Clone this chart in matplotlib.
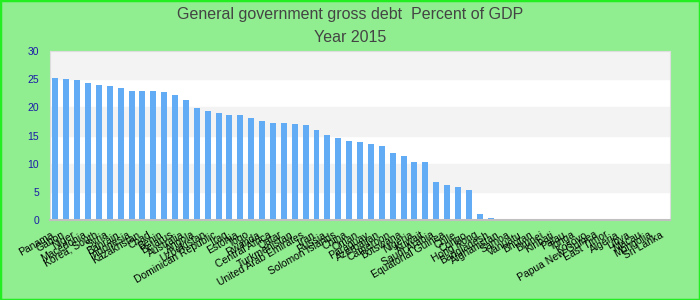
import matplotlib.pyplot as plt
from matplotlib.patches import Rectangle

# countries, sorted by debt (percent of GDP), year 2015
countries = ["Panama", "Gabon", "Niger", "Macedonia", "Korea, South", "Syria",
             "Bahrain", "Indonesia", "Kazakhstan", "Chad", "Benin", "Belarus",
             "Australia", "Angola", "Uzbekistan", "Dominican Republic", "Iraq",
             "Estonia", "Togo", "Rwanda", "Central Africa", "Qatar",
             "Turkmenistan", "United Arab Emirates", "Iran", "Russia",
             "Solomon Islands", "China", "Oman", "Paraguay", "Azerbaijan",
             "Cameroon", "Botswana", "Nigeria", "Kuwait", "Saudi Arabia",
             "Equatorial Guinea", "Chile", "Congo", "Hong Kong", "Bangladesh",
             "Afghanistan", "Samoa", "Vanuatu", "Bhutan", "Brunei", "Kiribati",
             "Palau", "Tonga", "Kosovo", "Papua New Guinea", "East Timor",
             "Algeria", "Libya", "Macau", "Mongolia", "Sri Lanka"]
debt = [25.2, 25.0, 24.8, 24.3, 23.9, 23.8, 23.4, 22.9, 22.9, 22.9, 22.7,
        22.2, 21.3, 19.9, 19.3, 19.0, 18.6, 18.6, 18.1, 17.6, 17.2, 17.2,
        17.0, 16.9, 16.0, 15.1, 14.6, 14.0, 13.8, 13.5, 13.1, 11.9, 11.3,
        10.3, 10.3, 6.7, 6.2, 5.9, 5.3, 1.1, 0.4,
        0, 0, 0, 0, 0, 0, 0, 0, 0, 0, 0, 0, 0, 0, 0, 0]
yticks = [0, 5, 10, 15, 20, 25, 30]

plt.rcParams['font.family'] = ['Liberation Sans', 'DejaVu Sans']

fig = plt.figure(figsize=(7, 3), dpi=100, facecolor="#90ee90")
ax = fig.add_axes([50 / 700, 80 / 300, 620 / 700, 169 / 300])
ax.set_facecolor("white")

# alternating bands
for i in range(len(yticks) - 1):
    if i % 2 == 1:
        ax.axhspan(yticks[i], yticks[i + 1], color="#f3f3f3", zorder=0)

ax.bar(range(len(countries)), debt, width=0.55, color="#62abf5", zorder=2)

ax.set_xlim(-0.5, len(countries) - 0.5)
ax.set_ylim(0, 30)
ax.set_yticks(yticks)
ax.tick_params(axis="y", length=0, pad=8, labelsize=7.5, labelcolor="#1a1aa8")
ax.set_xticks(range(len(countries)))
ax.set_xticklabels(countries, rotation=30, ha="right", fontsize=7.5)
ax.tick_params(axis="x", length=0, pad=7)

for s in ax.spines.values():
    s.set_color("#dddddd")
ax.spines["bottom"].set_color("#c0c0c0")
ax.spines["bottom"].set_linewidth(1.5)

fig.text(0.5, 1 - 14 / 300, "General government gross debt  Percent of GDP",
         ha="center", va="center", fontsize=11.5, color="#444444")
fig.text(0.5, 1 - 37 / 300, "Year 2015", ha="center", va="center",
         fontsize=11.5, color="#444444")

fig.patches.append(Rectangle((0, 0), 1, 1, transform=fig.transFigure,
                             fill=False, edgecolor="#22ee22", linewidth=2.5))

fig.savefig("out.png", dpi=100, facecolor=fig.get_facecolor())
